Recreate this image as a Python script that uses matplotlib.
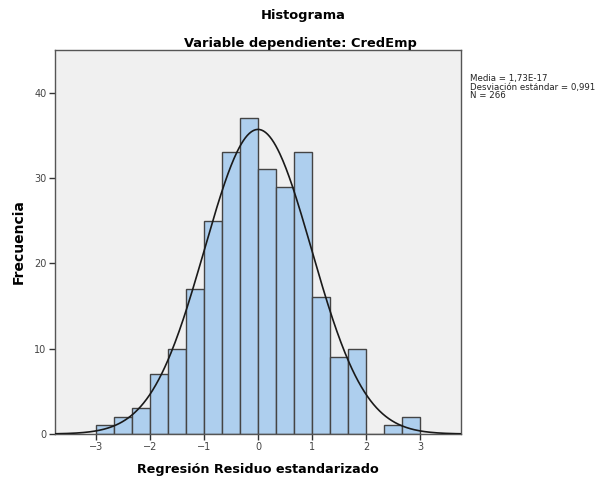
import numpy as np
import matplotlib
matplotlib.use("Agg")
import matplotlib.pyplot as plt

# Data
bin_edges = [-3 + i / 3 for i in range(19)]
counts = [1, 2, 3, 7, 10, 17, 25, 33, 37, 31, 29, 33, 16, 9, 10, 0, 1, 2]
mean = 1.73e-17
std = 0.991
n = 266
x_ticks = [-3, -2, -1, 0, 1, 2, 3]
y_ticks = [0, 10, 20, 30, 40]
stats_text = "Media = 1,73E-17\nDesviación estándar = 0,991\nN = 266"

fig = plt.figure(figsize=(6, 4.79), dpi=100)
ax = fig.add_axes([55/600, 1 - 434/479, (461-55)/600, (434-50)/479])
ax.set_facecolor("#f0f0f0")

edges = np.array(bin_edges)
widths = np.diff(edges)
ax.bar(edges[:-1], counts, width=widths, align="edge", color="#aecfee",
       edgecolor="#444444", linewidth=1.0, zorder=2)

xs = np.linspace(-3.76, 3.76, 400)
bw = widths[0]
pdf = n * bw * np.exp(-0.5 * ((xs - mean) / std) ** 2) / (std * np.sqrt(2 * np.pi))
ax.plot(xs, pdf, color="#1a1a1a", linewidth=1.2, zorder=3)

ax.set_xlim(-3.76, 3.76)
ax.set_ylim(0, 45)
ax.set_xticks(x_ticks)
ax.set_xticklabels([str(t).replace("-", "\u2212") for t in x_ticks])
ax.set_yticks(y_ticks)
ax.tick_params(axis="both", direction="out", length=4, width=1, color="#333333",
               labelsize=7, labelcolor="#444444", pad=2)
for s in ax.spines.values():
    s.set_color("#555555")
    s.set_linewidth(1.0)

ax.set_xlabel("Regresión Residuo estandarizado", fontsize=9.2, fontweight="bold", labelpad=8)
ax.set_ylabel("Frecuencia", fontsize=10, fontweight="bold", labelpad=6)

fig.text(303/600, 1 - 15/479, "Histograma", ha="center", va="center",
         fontsize=9.4, fontweight="bold")
fig.text(300/600, 1 - 43/479, "Variable dependiente: CredEmp", ha="center", va="center",
         fontsize=9.4, fontweight="bold")
fig.text(470/600, 1 - 74/479, stats_text, ha="left", va="top", fontsize=6.2,
         linespacing=0.95, color="#222222")

fig.savefig("out.png", dpi=100, facecolor="white")
